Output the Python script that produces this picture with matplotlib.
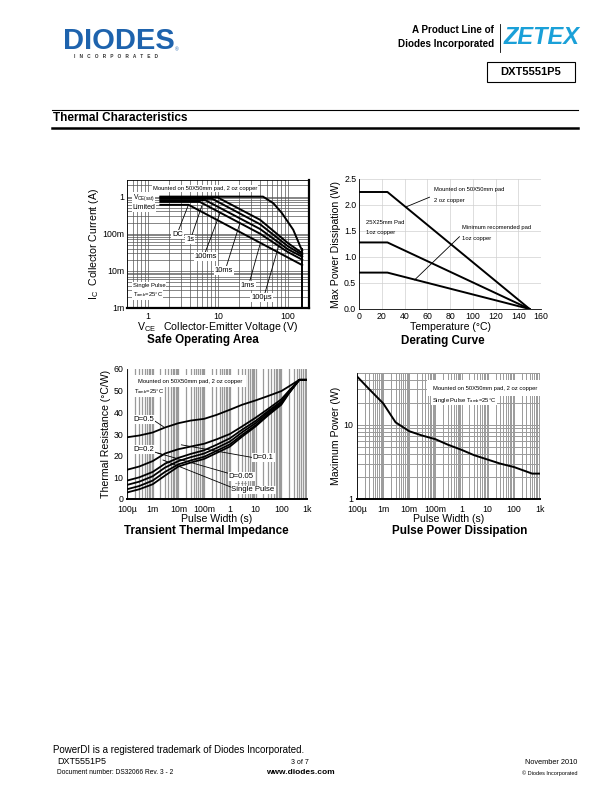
import numpy as np
import matplotlib
matplotlib.use("Agg")
import matplotlib.pyplot as plt
from matplotlib.lines import Line2D
from matplotlib.patches import Rectangle

plt.rcParams['font.family'] = ['Liberation Sans', 'DejaVu Sans']
plt.rcParams['mathtext.default'] = 'regular'

W, H = 612, 792

# ---- Safe operating area: VCE (V) vs IC (A) ----
soa_dc_v = [1.5, 3.8, 160]
soa_dc_i = [0.6, 0.6, 0.0143]
soa_1s_v = [1.5, 5.5, 40, 100, 160]
soa_1s_i = [0.72, 0.72, 0.1, 0.032, 0.02]
soa_100ms_v = [1.5, 6.6, 40, 100, 160]
soa_100ms_i = [0.8, 0.8, 0.134, 0.038, 0.024]
soa_10ms_v = [1.5, 8.3, 40, 100, 160]
soa_10ms_i = [0.87, 0.87, 0.18, 0.046, 0.027]
soa_1ms_v = [1.5, 9.9, 40, 100, 160]
soa_1ms_i = [0.95, 0.95, 0.237, 0.056, 0.03]
soa_100us_v = [1.5, 44, 62, 82, 119, 140, 150, 160]
soa_100us_i = [1.0, 1.0, 0.66, 0.36, 0.128, 0.062, 0.045, 0.036]
vceo_v = [160, 160]
vceo_i = [0.001, 0.04]

# ---- Derating curve: temperature (C) vs max power (W) ----
der_temp = [0, 25, 150]
der_50x50 = [2.25, 2.25, 0.0]
der_25x25 = [1.28, 1.28, 0.0]
der_min = [0.7, 0.7, 0.0]

# ---- Transient thermal impedance: pulse width (s) vs Rth (C/W) ----
tti_t = [1e-4, 3e-4, 1e-3, 3e-3, 1e-2, 3e-2, 1e-1, 3e-1, 1, 3, 10, 30, 100, 200, 500, 1e3]
tti_d05 = [28.5, 29.3, 30.7, 33.0, 35.0, 36.2, 37.0, 38.8, 41.2, 43.5, 45.5, 47.5, 49.8, 52.0, 55.0, 55.0]
tti_d02 = [13.5, 15.0, 17.5, 21.0, 23.0, 24.2, 25.5, 27.5, 30.0, 33.5, 37.5, 41.5, 46.0, 50.0, 55.0, 55.0]
tti_d01 = [8.5, 10.0, 12.5, 16.3, 19.0, 20.8, 22.5, 25.0, 28.0, 32.0, 36.0, 40.5, 45.0, 49.5, 55.0, 55.0]
tti_d005 = [6.5, 8.0, 10.5, 14.5, 17.5, 19.3, 21.0, 23.5, 26.5, 30.8, 35.0, 39.8, 44.5, 49.2, 55.0, 55.0]
tti_d002 = [4.5, 6.0, 8.5, 12.5, 16.0, 17.8, 19.5, 22.2, 25.2, 29.6, 34.0, 39.0, 44.0, 49.0, 55.0, 55.0]
tti_single = [3.0, 4.5, 6.8, 10.8, 15.0, 16.8, 18.5, 21.2, 24.2, 28.8, 33.5, 38.5, 43.5, 48.8, 55.0, 55.0]

# ---- Pulse power dissipation: pulse width (s) vs max power (W) ----
ppd_t = [1e-4, 3e-4, 1e-3, 3e-3, 1e-2, 3e-2, 1e-1, 3e-1, 1, 3, 10, 30, 100, 300, 500, 1e3]
ppd_p = [45, 30, 19.5, 10.8, 8.2, 7.2, 6.4, 5.4, 4.6, 3.9, 3.4, 3.0, 2.7, 2.35, 2.2, 2.2]

time_ticks = [1e-4, 1e-3, 1e-2, 1e-1, 1, 10, 100, 1e3]
time_labels = ['100µ', '1m', '10m', '100m', '1', '10', '100', '1k']

TICK_FS = 6.3
LAB_FS = 7.6
NOTE_FS = 4.2
TITLE_FS = 8.4

fig = plt.figure(figsize=(W / 100, H / 100), dpi=100)
fig.patch.set_facecolor('white')


def add_ax(x0, y0, x1, y1):
    # pixel box (top-left origin) -> figure fraction
    return fig.add_axes([x0 / W, 1 - y1 / H, (x1 - x0) / W, (y1 - y0) / H])


def ftext(x, y, s, **kw):
    kw.setdefault('va', 'center')
    return fig.text(x / W, 1 - y / H, s, **kw)


def fline(x0, y0, x1, y1, **kw):
    fig.add_artist(Line2D([x0 / W, x1 / W], [1 - y0 / H, 1 - y1 / H],
                          transform=fig.transFigure, **kw))


box = dict(facecolor='white', edgecolor='none', pad=0.6)

# ---------------- Safe Operating Area ----------------
ax1 = add_ax(127, 180, 309, 308)
ax1.set_xscale('log')
ax1.set_yscale('log')
ax1.set_xlim(0.5, 200)
ax1.set_ylim(1e-3, 2.8)
ax1.grid(True, which='both', color='#555555', lw=0.5)
for v, i in [(soa_dc_v, soa_dc_i), (soa_1s_v, soa_1s_i), (soa_100ms_v, soa_100ms_i),
             (soa_10ms_v, soa_10ms_i), (soa_1ms_v, soa_1ms_i), (soa_100us_v, soa_100us_i),
             (vceo_v, vceo_i)]:
    ax1.plot(v, i, color='black', lw=1.4, solid_joinstyle='round')
ax1.set_xticks([1, 10, 100])
ax1.set_xticklabels(['1', '10', '100'])
ax1.set_yticks([1e-3, 1e-2, 1e-1, 1])
ax1.set_yticklabels(['1m', '10m', '100m', '1'])
ax1.minorticks_on()
ax1.tick_params(which='both', length=0, labelsize=TICK_FS, pad=2)
ax1.tick_params(axis='x', which='both', pad=3)
ax1.tick_params(axis='x', which='minor', labelbottom=False)
ax1.tick_params(axis='y', which='minor', labelleft=False)
for side in ['left', 'top']:
    ax1.spines[side].set_linewidth(0.6)
for side in ['right', 'bottom']:
    ax1.spines[side].set_linewidth(1.6)
ax1.set_xlabel(r'$V_{CE}$   Collector-Emitter Voltage (V)', fontsize=LAB_FS, labelpad=-0.5)
ax1.set_ylabel(r'$I_C$  Collector Current (A)', fontsize=LAB_FS, labelpad=1)
ax1.text(6.5, 1.65, 'Mounted on 50X50mm pad, 2 oz copper', fontsize=NOTE_FS,
         ha='center', va='center', bbox=box)
ax1.text(0.6, 0.93, r'$V_{CE(sat)}$', fontsize=NOTE_FS + 0.6, ha='left', va='center', bbox=box)
ax1.text(0.6, 0.51, 'Limited', fontsize=NOTE_FS + 0.8, ha='left', va='center', bbox=box)
ax1.text(0.6, 0.0041, 'Single Pulse', fontsize=NOTE_FS, ha='left', va='center', bbox=box)
ax1.text(0.6, 0.0023, r'$T_{amb}$=25°C', fontsize=NOTE_FS, ha='left', va='center', bbox=box)
soa_labels = [('DC', (2.65, 0.095), (2.7, 0.118), (3.76, 0.588)),
              ('1s', (4.0, 0.07), (4.2, 0.087), (5.85, 0.55)),
              ('100ms', (6.7, 0.024), (6.5, 0.030), (10.7, 0.36)),
              ('10ms', (12.2, 0.0104), (13.3, 0.0139), (20.6, 0.194)),
              ('1ms', (26.8, 0.0041), (28.6, 0.0055), (39.8, 0.051)),
              ('100µs', (41.9, 0.00189), (46.8, 0.0025), (77, 0.062))]
for s, tpos, p0, p1 in soa_labels:
    ax1.plot([p0[0], p1[0]], [p0[1], p1[1]], color='black', lw=0.6)
    ax1.text(tpos[0], tpos[1], s, fontsize=NOTE_FS + 1.2, ha='center', va='center', bbox=box)

# ---------------- Derating Curve ----------------
ax2 = add_ax(359, 179, 541, 309)
ax2.set_xlim(0, 160)
ax2.set_ylim(0, 2.5)
ax2.grid(True, color='#d0d0d0', lw=0.5)
ax2.plot(der_temp, der_50x50, color='black', lw=1.4)
ax2.plot(der_temp, der_25x25, color='black', lw=1.4)
ax2.plot(der_temp, der_min, color='black', lw=1.4)
ax2.set_xticks(np.arange(0, 161, 20))
ax2.set_yticks(np.arange(0, 2.51, 0.5))
ax2.set_yticklabels(['%.1f' % v for v in np.arange(0, 2.51, 0.5)])
ax2.tick_params(length=0, labelsize=TICK_FS, pad=2)
ax2.spines['top'].set_visible(False)
ax2.spines['right'].set_visible(False)
ax2.spines['left'].set_linewidth(0.6)
ax2.spines['bottom'].set_linewidth(0.6)
ax2.set_xlabel('Temperature (°C)', fontsize=LAB_FS, labelpad=1)
ax2.set_ylabel('Max Power Dissipation (W)', fontsize=LAB_FS, labelpad=2)
ax2.text(66, 2.3, 'Mounted on 50X50mm pad', fontsize=NOTE_FS, ha='left', va='center')
ax2.text(66, 2.09, '2 oz copper', fontsize=NOTE_FS, ha='left', va='center')
ax2.plot([62, 41], [2.15, 1.96], color='black', lw=0.6)
ax2.text(6.5, 1.66, '25X25mm Pad', fontsize=NOTE_FS, ha='left', va='center')
ax2.text(6.5, 1.47, '1oz copper', fontsize=NOTE_FS, ha='left', va='center')
ax2.text(90.6, 1.57, 'Minimum recomended pad', fontsize=NOTE_FS, ha='left', va='center')
ax2.text(90.6, 1.36, '1oz copper', fontsize=NOTE_FS, ha='left', va='center')
ax2.plot([88.3, 48.9], [1.39, 0.56], color='black', lw=0.6)

# ---------------- Transient Thermal Impedance ----------------
ax3 = add_ax(127, 369, 307, 499)
ax3.set_xscale('log')
ax3.set_xlim(1e-4, 1e3)
ax3.set_ylim(0, 60)
ax3.xaxis.grid(True, which='both', color='#9a9a9a', lw=0.9)
for curve in [tti_d05, tti_d02, tti_d01, tti_d005, tti_d002, tti_single]:
    ax3.plot(tti_t, curve, color='black', lw=1.3)
ax3.set_xticks(time_ticks)
ax3.set_xticklabels(time_labels)
ax3.set_yticks(np.arange(0, 61, 10))
ax3.tick_params(which='both', length=0, labelsize=TICK_FS, pad=2.5)
ax3.tick_params(axis='x', which='both', pad=4)
ax3.spines['top'].set_visible(False)
ax3.spines['right'].set_visible(False)
ax3.spines['left'].set_linewidth(0.6)
ax3.spines['bottom'].set_linewidth(1.4)
ax3.set_xlabel('Pulse Width (s)', fontsize=LAB_FS, labelpad=0)
ax3.set_ylabel('Thermal Resistance (°C/W)', fontsize=LAB_FS, labelpad=2)
ax3.text(2.6e-4, 54.3, 'Mounted on 50X50mm pad, 2 oz copper', fontsize=NOTE_FS,
         ha='left', va='center', bbox=dict(facecolor='white', edgecolor='none', pad=2.5))
ax3.text(1.8e-4, 49.4, r'$T_{amb}$=25°C', fontsize=NOTE_FS, ha='left', va='center', bbox=box)
ax3.text(1.8e-4, 36.6, 'D=0.5', fontsize=NOTE_FS + 1.4, ha='left', va='center', bbox=box)
ax3.plot([1.2e-3, 2.6e-3], [36.0, 33.4], color='black', lw=0.6)
ax3.text(1.8e-4, 23.0, 'D=0.2', fontsize=NOTE_FS + 1.4, ha='left', va='center', bbox=box)
ax3.plot([1.1e-3, 2.4e-3], [21.8, 20.5], color='black', lw=0.6)
ax3.plot([1.3e-2, 9.0], [25.0, 19.0], color='black', lw=0.6)
ax3.text(20, 19.1, 'D=0.1', fontsize=NOTE_FS + 1.4, ha='center', va='center', bbox=box)
ax3.plot([1.6e-3, 1.2], [21.2, 11.4], color='black', lw=0.6)
ax3.text(2.8, 10.3, 'D=0.05', fontsize=NOTE_FS + 1.4, ha='center', va='center', bbox=box)
ax3.text(2.8, 7.6, '........', fontsize=NOTE_FS, ha='center', va='center')
ax3.plot([2.5e-3, 1.4], [18.0, 5.0], color='black', lw=0.6)
ax3.text(8, 4.2, 'Single Pulse', fontsize=NOTE_FS + 1.4, ha='center', va='center', bbox=box)

# ---------------- Pulse Power Dissipation ----------------
ax4 = add_ax(357, 373, 540, 499)
ax4.set_xscale('log')
ax4.set_yscale('log')
ax4.set_xlim(1e-4, 1e3)
ax4.set_ylim(1, 50)
ax4.grid(True, which='both', color='#9a9a9a', lw=0.7)
ax4.plot(ppd_t, ppd_p, color='black', lw=1.4)
ax4.set_xticks(time_ticks)
ax4.set_xticklabels(time_labels)
ax4.set_yticks([1, 10])
ax4.set_yticklabels(['1', '10'])
ax4.minorticks_on()
ax4.tick_params(which='both', length=0, labelsize=TICK_FS, pad=2.5)
ax4.tick_params(axis='x', which='both', pad=4)
ax4.tick_params(axis='y', which='minor', labelleft=False)
ax4.tick_params(axis='x', which='minor', labelbottom=False)
ax4.spines['top'].set_visible(False)
ax4.spines['right'].set_visible(False)
ax4.spines['left'].set_linewidth(0.6)
ax4.spines['bottom'].set_linewidth(1.4)
ax4.set_xlabel('Pulse Width (s)', fontsize=LAB_FS, labelpad=0)
ax4.set_ylabel('Maximum Power (W)', fontsize=LAB_FS, labelpad=2)
ax4.text(0.08, 31, 'Mounted on 50X50mm pad, 2 oz copper', fontsize=NOTE_FS,
         ha='left', va='center', bbox=dict(facecolor='white', edgecolor='none', pad=4))
ax4.text(0.075, 21.5, r'Single Pulse $T_{amb}$=25°C', fontsize=NOTE_FS, ha='left', va='center',
         bbox=box)

# chart titles
ftext(203, 340.5, 'Safe Operating Area', fontsize=TITLE_FS, fontweight='bold', ha='center')
ftext(443, 341, 'Derating Curve', fontsize=TITLE_FS, fontweight='bold', ha='center')
ftext(206, 531, 'Transient Thermal Impedance', fontsize=TITLE_FS, fontweight='bold', ha='center')
ftext(460, 531, 'Pulse Power Dissipation', fontsize=TITLE_FS, fontweight='bold', ha='center')

# ---------------- page header ----------------
ftext(63, 49, 'DIODES', fontsize=21, fontweight='bold', color='#1e63ad', ha='left', va='baseline')
fline(63, 39.5, 128, 39.5, color='white', lw=0.7)
ftext(116, 56.5, 'I   N   C   O   R   P   O   R   A   T   E   D', fontsize=3.4,
      fontweight='bold', color='#333333', ha='center')
ftext(177, 50, '®', fontsize=3.5, color='#1e63ad', ha='center')
ftext(494, 30, 'A Product Line of', fontsize=7.1, fontweight='bold', ha='right')
ftext(494, 44, 'Diodes Incorporated', fontsize=7.1, fontweight='bold', ha='right')
fline(499.5, 24, 499.5, 52, color='black', lw=0.6)
ftext(542, 37, 'ZETEX', fontsize=17, fontweight='bold', style='italic', color='#1aa0d8',
      ha='center')
fig.add_artist(Rectangle((487 / W, 1 - 82 / H), 88 / W, 20 / H, transform=fig.transFigure,
                         facecolor='none', edgecolor='black', lw=0.8))
ftext(531, 72, 'DXT5551P5', fontsize=8, fontweight='bold', ha='center')

ftext(53, 118, 'Thermal Characteristics', fontsize=8.5, fontweight='bold', ha='left')
fline(52, 110, 578, 110, color='black', lw=0.8)
fline(52, 127.5, 578, 127.5, color='black', lw=1.8)

# ---------------- page footer ----------------
ftext(53, 750, 'PowerDI is a registered trademark of Diodes Incorporated.', fontsize=7, ha='left')
ftext(57, 762, 'DXT5551P5', fontsize=6.5, ha='left')
ftext(57, 773, 'Document number: DS32066 Rev. 3 - 2', fontsize=4.8, ha='left')
ftext(300, 762, '3 of 7', fontsize=5, ha='center')
ftext(300, 773, 'www.diodes.com', fontsize=6, fontweight='bold', ha='center')
ftext(577, 762, 'November 2010', fontsize=5.3, ha='right')
ftext(577, 773, '© Diodes Incorporated', fontsize=4, ha='right')

fig.savefig('out.png', dpi=100)
